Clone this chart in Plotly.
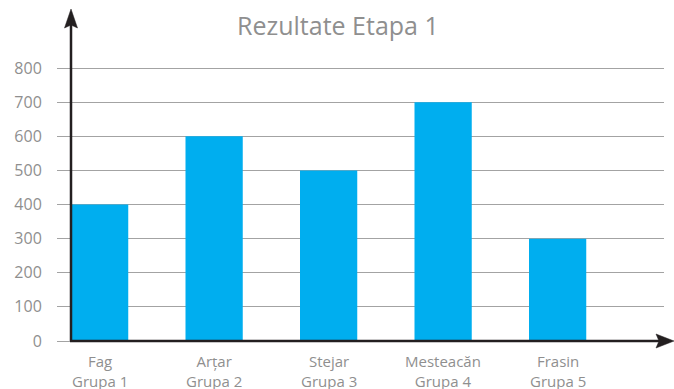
import plotly.graph_objects as go

species = ["Fag", "Arțar", "Stejar", "Mesteacăn", "Frasin"]
groups = ["Grupa 1", "Grupa 2", "Grupa 3", "Grupa 4", "Grupa 5"]
values = [400, 600, 500, 700, 300]
y_ticks = [0, 100, 200, 300, 400, 500, 600, 700, 800]

GRAY = "#8f8f8f"
GRID = "#a3a3a3"
AXIS = "#231f20"
FONT = "Open Sans, Noto Sans, sans-serif"

W, H = 674, 389
L, R, T, B = 71, 10, 66, 48
PW, PH = W - L - R, H - T - B


def px(x):
    return (x - L) / PW


def py(y):
    return (H - B - y) / PH


xs = list(range(len(species)))

fig = go.Figure()
fig.add_trace(go.Bar(x=xs, y=values,
                     marker=dict(color="#00aeef", line=dict(width=0)),
                     width=0.5))

shapes = [
    dict(type="line", xref="paper", yref="paper", x0=px(71), x1=px(71),
         y0=py(341), y1=py(24), line=dict(color=AXIS, width=2.5)),
    dict(type="path", xref="paper", yref="paper",
         path=f"M {px(71)},{py(9)} L {px(64.5)},{py(28)} L {px(71)},{py(25)} L {px(77.5)},{py(28)} Z",
         fillcolor=AXIS, line=dict(color=AXIS, width=0.5)),
    dict(type="line", xref="paper", yref="paper", x0=px(70), x1=px(660),
         y0=py(341), y1=py(341), line=dict(color=AXIS, width=2.5)),
    dict(type="path", xref="paper", yref="paper",
         path=f"M {px(674)},{py(341)} L {px(656)},{py(334)} L {px(659)},{py(341)} L {px(656)},{py(348)} Z",
         fillcolor=AXIS, line=dict(color=AXIS, width=0.5)),
]

annotations = [
    dict(text="Rezultate Etapa 1", xref="paper", yref="paper",
         x=px(338), y=py(25), xanchor="center", yanchor="middle",
         showarrow=False, font=dict(size=25, color=GRAY, family=FONT)),
]
for i, (s, g) in enumerate(zip(species, groups)):
    annotations.append(dict(text=f"{s}<br>{g}", xref="x", yref="paper", x=i, y=py(370.5),
                            xanchor="center", yanchor="middle", showarrow=False,
                            align="center",
                            font=dict(size=15, color=GRAY, family=FONT)))

fig.update_layout(
    width=W, height=H,
    margin=dict(l=L, r=R, t=T, b=B),
    paper_bgcolor="white", plot_bgcolor="white",
    showlegend=False,
    font=dict(family=FONT, color=GRAY),
    xaxis=dict(range=[-0.25, -0.25 + PW / 114.5], tickvals=xs,
               showticklabels=False,
               showgrid=False, zeroline=False, showline=False,
               ticks="", automargin=False),
    yaxis=dict(range=[0, 800 * PH / 273], tickvals=y_ticks, showgrid=True,
               gridcolor=GRID, gridwidth=1, zeroline=False,
               showline=False, ticks="outside", ticklen=13,
               tickcolor=GRID, tickwidth=1, automargin=False,
               ticklabelstandoff=12,
               tickfont=dict(size=16, color=GRAY)),
    shapes=shapes,
    annotations=annotations,
)

fig.write_html("out.html", config={"displayModeBar": False},
               post_script="document.body.style.margin='0';document.body.style.overflow='hidden';")
